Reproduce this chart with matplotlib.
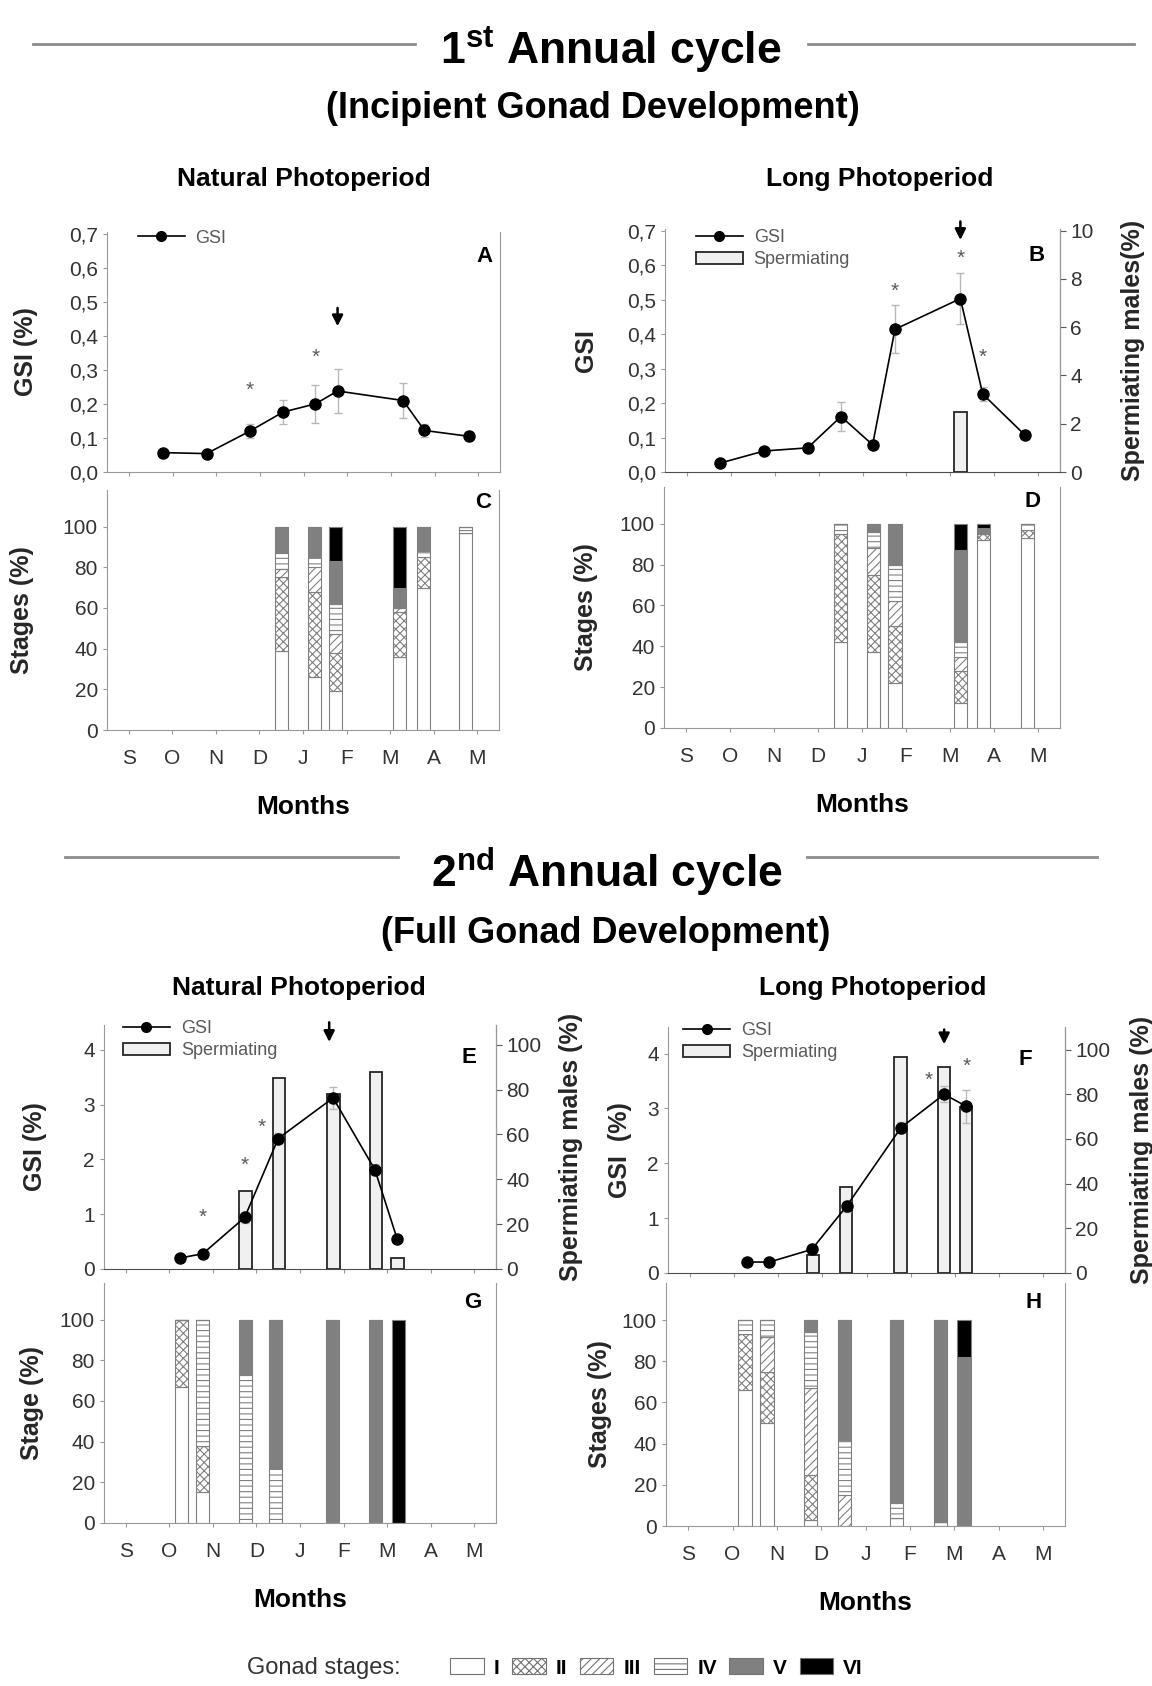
import matplotlib.pyplot as plt
from matplotlib.lines import Line2D
from matplotlib.patches import Patch
import numpy as np

plt.rcParams['font.family'] = ['Liberation Sans', 'DejaVu Sans']
plt.rcParams['hatch.color'] = '0.45'
plt.rcParams['hatch.linewidth'] = 0.8
plt.rcParams['mathtext.fontset'] = 'custom'
plt.rcParams['mathtext.rm'] = 'Liberation Sans:bold'
plt.rcParams['mathtext.bf'] = 'Liberation Sans:bold'

months = ['S', 'O', 'N', 'D', 'J', 'F', 'M', 'A', 'M']
stage_names = ['I', 'II', 'III', 'IV', 'V', 'VI']
stage_colors = ['white', 'white', 'white', 'white', '0.5', 'black']
stage_hatch = ['', 'xxxx', '////', '---', '', '']

# ---- 1st cycle, natural photoperiod (A, C)
xA = [0.78, 1.78, 2.77, 3.53, 4.27, 4.78, 6.28, 6.77, 7.78]
gsiA = [0.057, 0.054, 0.12, 0.176, 0.20, 0.238, 0.21, 0.122, 0.105]
errA = [0.005, 0.005, 0.02, 0.035, 0.056, 0.064, 0.052, 0.02, 0.01]
starsA = [(2.77, 0.24), (4.27, 0.338)]
arrowA = (4.78, 0.49, 0.42)

xC = [3.5, 4.27, 4.75, 6.22, 6.77, 7.73]
stagesC = [[39, 36, 4, 8, 13, 0],
           [26, 42, 12, 5, 15, 0],
           [19, 19, 9, 15, 21, 17],
           [36, 22, 2, 0, 10, 30],
           [70, 15, 0, 3, 12, 0],
           [97, 0, 0, 3, 0, 0]]

# ---- 1st cycle, long photoperiod (B, D)
xB = [0.76, 1.76, 2.75, 3.51, 4.23, 4.74, 6.23, 6.74, 7.71]
gsiB = [0.026, 0.061, 0.070, 0.161, 0.079, 0.414, 0.503, 0.226, 0.106]
errB = [0.005, 0.008, 0.01, 0.043, 0.01, 0.07, 0.075, 0.02, 0.008]
starsB = [(4.74, 0.525), (6.23, 0.62), (6.74, 0.334)]
arrowB = (6.23, 0.735, 0.665)
spermXB = [6.23]
spermB = [2.5]

xD = [3.51, 4.26, 4.75, 6.24, 6.76, 7.76]
stagesD = [[42, 53, 0, 5, 0, 0],
           [37, 38, 13, 8, 4, 0],
           [22, 28, 12, 18, 20, 0],
           [12, 16, 7, 7, 45, 13],
           [92, 3, 0, 0, 3, 2],
           [93, 4, 0, 3, 0, 0]]

# ---- 2nd cycle, natural photoperiod (E, G)
xE = [1.25, 1.77, 2.73, 3.5, 4.76, 5.72, 6.23]
gsiE = [0.20, 0.28, 0.94, 2.38, 3.12, 1.81, 0.55]
errE = [0.03, 0.05, 0.1, 0.1, 0.2, 0.1, 0.05]
starsE = [(1.77, 0.94), (2.73, 1.89), (3.12, 2.59)]
arrowE = (4.67, 4.55, 4.09)
spermXE = [2.75, 3.51, 4.77, 5.75, 6.24]
spermE = [35, 85, 78, 88, 5]

xG = [1.28, 1.77, 2.75, 3.44, 4.75, 5.74, 6.26]
stagesG = [[67, 33, 0, 0, 0, 0],
           [15, 23, 0, 62, 0, 0],
           [0, 0, 0, 73, 27, 0],
           [0, 0, 0, 27, 73, 0],
           [0, 0, 0, 0, 100, 0],
           [0, 0, 0, 0, 100, 0],
           [0, 0, 0, 0, 0, 100]]

# ---- 2nd cycle, long photoperiod (F, H)
xF = [1.3, 1.8, 2.76, 3.55, 4.78, 5.76, 6.26]
gsiF = [0.20, 0.20, 0.43, 1.22, 2.65, 3.26, 3.04]
errF = [0.03, 0.03, 0.05, 0.1, 0.1, 0.15, 0.3]
starsF = [(5.42, 3.51), (6.26, 3.76)]
arrowF = (5.76, 4.49, 4.12)
spermXF = [2.78, 3.53, 4.77, 5.76, 6.25]
spermF = [8, 38.5, 96.7, 92, 74.3]

xH = [1.28, 1.78, 2.76, 3.52, 4.7, 5.69, 6.22]
stagesH = [[66, 27, 0, 7, 0, 0],
           [50, 25, 17, 8, 0, 0],
           [3, 22, 42, 27, 6, 0],
           [0, 0, 15, 27, 58, 0],
           [4, 0, 0, 7, 89, 0],
           [2, 0, 0, 0, 98, 0],
           [0, 0, 0, 0, 82, 18]]

W, H = 1152, 1686
fig = plt.figure(figsize=(W / 100, H / 100), dpi=100)


def make_axes(px):
    x0, y0, x1, y1 = px
    return fig.add_axes([x0 / W, 1 - y1 / H, (x1 - x0) / W, (y1 - y0) / H])


def place_ylabel(axis, px, xc, side='left'):
    # put the y label centre near pixel column xc
    x0, y0, x1, y1 = px
    off = 11 if side == 'left' else -11
    axis.yaxis.set_label_coords((xc + off - x0) / (x1 - x0), 0.5)


def style_axes(ax, base_color='0.6'):
    ax.spines['top'].set_visible(False)
    for s in ['left', 'right']:
        ax.spines[s].set_color('0.6')
    ax.spines['bottom'].set_color(base_color)
    ax.set_xlim(-0.5, 8.5)
    ax.set_xticks(range(9))
    ax.tick_params(axis='both', colors='0.6', labelcolor='0.2', labelsize=15, length=3)


def gsi_panel(px, x, gsi, err, ylim, yticks, yticklabels, ylabel, ylab_x, letter, lpos,
              stars, arrow, sperm_x=None, sperm=None, rmax=None, rlabel=None, rlab_x=None,
              base_color='0.6', leg_anchor=(0.02, 1.05)):
    ax = make_axes(px)
    style_axes(ax, base_color)
    ax.set_xticklabels([])
    ax.set_ylim(*ylim)
    ax.set_yticks(yticks)
    ax.set_yticklabels(yticklabels)
    ax.set_ylabel(ylabel, fontsize=18, fontweight='bold', color='0.15')
    place_ylabel(ax, px, ylab_x)
    ax.errorbar(x, gsi, yerr=err, fmt='none', ecolor='0.72', elinewidth=1, capsize=3, zorder=3)
    ax.plot(x, gsi, '-o', color='black', lw=1.2, ms=8, zorder=4)
    for sx, sy in stars:
        ax.text(sx, sy, '*', ha='center', va='center', fontsize=15, color='0.35')
    ax.annotate('', xy=(arrow[0], arrow[2]), xytext=(arrow[0], arrow[1]),
                arrowprops=dict(arrowstyle='-|>', color='black', lw=1.8, mutation_scale=16),
                annotation_clip=False)
    ax.text(lpos[0], lpos[1], letter, transform=ax.transAxes, ha='center', va='center',
            fontsize=16, fontweight='bold')
    handles = [Line2D([], [], color='black', marker='o', lw=1.2, ms=7)]
    labels = ['GSI']
    if sperm is not None:
        ax2 = ax.twinx()
        ax2.spines['top'].set_visible(False)
        ax2.spines['right'].set_color('0.35')
        ax2.spines['left'].set_visible(False)
        ax2.spines['bottom'].set_visible(False)
        ax2.set_ylim(0, rmax)
        ax2.set_yticks(range(0, int(rmax) + 1, 2 if rmax < 20 else 20))
        ax2.tick_params(axis='y', colors='0.35', labelcolor='0.2', labelsize=15, length=4)
        ax2.bar(sperm_x, sperm, width=0.28, color='0.94', edgecolor='0.15', lw=1.3)
        ax2.set_ylabel(rlabel, fontsize=18, fontweight='bold', color='0.15')
        place_ylabel(ax2, px, rlab_x, side='right')
        ax.set_zorder(ax2.get_zorder() + 1)
        ax.patch.set_visible(False)
        handles.append(Patch(facecolor='0.94', edgecolor='0.15', lw=1.3))
        labels.append('Spermiating')
    ax.legend(handles, labels, loc='upper left', bbox_to_anchor=leg_anchor, frameon=False,
              fontsize=13, handlelength=2.6, handletextpad=0.6, labelspacing=0.3,
              labelcolor='0.35', borderaxespad=0)
    return ax


def stage_panel(px, x, stages, ylabel, ylab_x, letter, lpos):
    ax = make_axes(px)
    style_axes(ax)
    ax.set_xticklabels(months, fontsize=15)
    ax.tick_params(axis='x', pad=11)
    ax.set_ylim(0, 118)
    ax.set_yticks(range(0, 101, 20))
    ax.set_ylabel(ylabel, fontsize=18, fontweight='bold', color='0.15')
    place_ylabel(ax, px, ylab_x)
    ax.set_xlabel('Months', fontsize=19, fontweight='bold', labelpad=19)
    vals = np.array(stages, dtype=float)
    bottom = np.zeros(len(x))
    for k in range(6):
        ax.bar(x, vals[:, k], bottom=bottom, width=0.3, color=stage_colors[k],
               hatch=stage_hatch[k], edgecolor='0.5', lw=0.8)
        bottom += vals[:, k]
    ax.text(lpos[0], lpos[1], letter, transform=ax.transAxes, ha='center', va='center',
            fontsize=16, fontweight='bold')
    return ax


gticks1 = [0, 0.1, 0.2, 0.3, 0.4, 0.5, 0.6, 0.7]
gtick1_labels = ['0,0', '0,1', '0,2', '0,3', '0,4', '0,5', '0,6', '0,7']

gsi_panel((107, 232, 500, 472), xA, gsiA, errA, (0, 0.705), gticks1, gtick1_labels,
          'GSI (%)', 27, 'A', (0.96, 0.90), starsA, arrowA, leg_anchor=(0.06, 1.04))
gsi_panel((665, 229, 1060, 472), xB, gsiB, errB, (0, 0.705), gticks1, gtick1_labels,
          'GSI', 587, 'B', (0.94, 0.89), starsB, arrowB, spermXB, spermB, 10.07,
          'Spermiating males(%)', 1132, base_color='0.3', leg_anchor=(0.06, 1.03))
stage_panel((107, 490, 499, 730), xC, stagesC, 'Stages (%)', 23, 'C', (0.96, 0.95))
stage_panel((664, 487, 1060, 728), xD, stagesD, 'Stages (%)', 587, 'D', (0.93, 0.94))

gsi_panel((104, 1025, 496, 1269), xE, gsiE, errE, (0, 4.45), [0, 1, 2, 3, 4],
          ['0', '1', '2', '3', '4'], 'GSI (%)', 36, 'E', (0.93, 0.865), starsE, arrowE,
          spermXE, spermE, 108.8, 'Spermiating males (%)', 570, base_color='0.3',
          leg_anchor=(0.03, 1.05))
gsi_panel((668, 1027, 1065, 1273), xF, gsiF, errF, (0, 4.486), [0, 1, 2, 3, 4],
          ['0', '1', '2', '3', '4'], 'GSI  (%)', 621, 'F', (0.90, 0.866), starsF, arrowF,
          spermXF, spermF, 110.1, 'Spermiating males (%)', 1141, base_color='0.3',
          leg_anchor=(0.02, 1.05))
stage_panel((104, 1283, 496, 1523), xG, stagesG, 'Stage (%)', 33, 'G', (0.94, 0.92))
stage_panel((666, 1283, 1065, 1526), xH, stagesH, 'Stages (%)', 601, 'H', (0.92, 0.92))

# section headers
for (x0, x1, x2, x3, y) in [(33, 415, 808, 1134, 44), (65, 398, 807, 1097, 857)]:
    fig.add_artist(Line2D([x0 / W, x1 / W], [1 - y / H] * 2, color='0.55', lw=2))
    fig.add_artist(Line2D([x2 / W, x3 / W], [1 - y / H] * 2, color='0.55', lw=2))

fig.text(611 / W, 1 - 50 / H, r'$\mathbf{1^{st}}$ Annual cycle', ha='center', va='center',
         fontsize=32, fontweight='bold')
fig.text(593 / W, 1 - 109 / H, '(Incipient Gonad Development)', ha='center', va='center',
         fontsize=26, fontweight='bold')
fig.text(607 / W, 1 - 872 / H, r'$\mathbf{2^{nd}}$ Annual cycle', ha='center', va='center',
         fontsize=32, fontweight='bold')
fig.text(606 / W, 1 - 933 / H, '(Full Gonad Development)', ha='center', va='center',
         fontsize=26, fontweight='bold')
fig.text(304 / W, 1 - 179 / H, 'Natural Photoperiod', ha='center', va='center',
         fontsize=19, fontweight='bold')
fig.text(880 / W, 1 - 179 / H, 'Long Photoperiod', ha='center', va='center',
         fontsize=19, fontweight='bold')
fig.text(299 / W, 1 - 988 / H, 'Natural Photoperiod', ha='center', va='center',
         fontsize=19, fontweight='bold')
fig.text(873 / W, 1 - 988 / H, 'Long Photoperiod', ha='center', va='center',
         fontsize=19, fontweight='bold')

# gonad stage legend
fig.text(247 / W, 1 - 1668 / H, 'Gonad stages:', ha='left', va='center', fontsize=17,
         color='0.2')
leg_handles = [Patch(facecolor=stage_colors[k], hatch=stage_hatch[k], edgecolor='0.45', lw=0.8)
               for k in range(6)]
fig.legend(leg_handles, stage_names, loc='center left', bbox_to_anchor=(442 / W, 1 - 1668 / H),
           ncol=6, frameon=False, handlelength=1.6, handleheight=0.8, handletextpad=0.5,
           columnspacing=0.6, borderaxespad=0, prop={'size': 15, 'weight': 'bold'})

fig.savefig('out.png', dpi=100)
